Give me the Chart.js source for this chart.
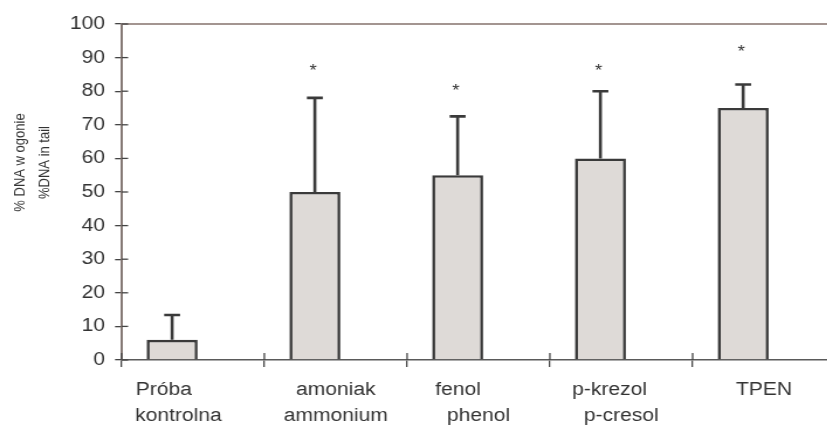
<!DOCTYPE html>
<html><head><meta charset="utf-8">
<script src="https://cdn.jsdelivr.net/npm/chart.js@4.4.1/dist/chart.umd.min.js"></script>
<style>
html,body{margin:0;padding:0;background:#fff;overflow:hidden;}
#outer{width:827px;height:428px;overflow:hidden;position:relative;}
#inner{width:714px;height:428px;transform:scaleX(1.17);transform-origin:0 0;}
</style></head><body>
<div id="outer"><div id="inner"><canvas id="c"></canvas></div></div>
<script>
// ---- data ----
const categories = [
  ['Próba          ', 'kontrolna     '],
  ['amoniak', 'ammonium'],
  ['fenol       ', 'phenol'],
  ['p-krezol    ', 'p-cresol'],
  ['TPEN']
];
const meanValues = [6, 50, 55, 60, 75];
const sdValues = [7.4, 28, 17.5, 20, 7];
const starLevels = [null, 87.2, 81.2, 87.3, 92.8];
const yTitleLines = ['% DNA w ogonie', '%DNA in tail'];
const yMin = 0, yMax = 100, yStep = 10;

const FONT = '"Liberation Sans", Arial, Helvetica, sans-serif';

const decorations = {
  id: 'decorations',
  afterDatasetsDraw(chart) {
    const ctx = chart.ctx, ys = chart.scales.y, xs = chart.scales.x, area = chart.chartArea;
    const meta = chart.getDatasetMeta(0);
    ctx.save();
    // top frame line
    ctx.strokeStyle = '#a39591'; ctx.lineWidth = 2;
    ctx.beginPath(); ctx.moveTo(area.left, area.top); ctx.lineTo(area.right, area.top); ctx.stroke();
    // inward halves of the tick marks
    ctx.strokeStyle = '#444'; ctx.lineWidth = 1.3;
    ys.ticks.forEach((t, i) => {
      const y = ys.getPixelForTick(i);
      ctx.beginPath(); ctx.moveTo(area.left, y); ctx.lineTo(area.left + 5.6, y); ctx.stroke();
    });
    for (let i = 0; i <= categories.length; i++) {
      const x = xs.getPixelForValue(i - 0.5);
      ctx.beginPath(); ctx.moveTo(x, area.bottom); ctx.lineTo(x, area.bottom - 7); ctx.stroke();
    }
    // upper error bars
    ctx.strokeStyle = '#3a3a3a'; ctx.lineWidth = 2.6; ctx.lineCap = 'butt';
    meta.data.forEach((bar, i) => {
      const top = ys.getPixelForValue(meanValues[i] + sdValues[i]);
      ctx.beginPath();
      ctx.moveTo(bar.x, bar.y); ctx.lineTo(bar.x, top);
      ctx.moveTo(bar.x - 6.8, top); ctx.lineTo(bar.x + 6.8, top);
      ctx.stroke();
    });
    // significance stars
    ctx.fillStyle = '#333';
    ctx.font = '16px ' + FONT;
    ctx.textAlign = 'center'; ctx.textBaseline = 'alphabetic';
    meta.data.forEach((bar, i) => {
      if (starLevels[i] == null) return;
      ctx.fillText('*', bar.x - 1.5, ys.getPixelForValue(starLevels[i]) + 9);
    });
    // y axis title (two rotated lines)
    ctx.font = '13px ' + FONT;
    ctx.textAlign = 'center'; ctx.textBaseline = 'middle';
    const cy = (area.top + area.bottom) / 2 - 29.5;
    yTitleLines.forEach((line, i) => {
      ctx.save();
      ctx.translate(17.5 + i * 21.4, cy);
      ctx.rotate(-Math.PI / 2);
      ctx.fillText(line, 0, 0);
      ctx.restore();
    });
    ctx.restore();
  }
};

new Chart(document.getElementById('c'), {
  type: 'bar',
  data: {
    labels: categories,
    datasets: [{
      data: meanValues.map((v, i) => ({ x: i, y: v })),
      xAxisID: 'xb', yAxisID: 'y',
      backgroundColor: '#dedad7',
      borderColor: '#3a3a3a',
      borderWidth: 2.6,
      borderSkipped: 'start',
      categoryPercentage: 1,
      barPercentage: 0.357
    }]
  },
  options: {
    responsive: true, maintainAspectRatio: false, animation: false,
    devicePixelRatio: 1,
    layout: { padding: { top: 24, left: 0, right: 0, bottom: 0 } },
    plugins: { legend: { display: false }, tooltip: { enabled: false } },
    events: [],
    scales: {
      x: {
        type: 'category', position: 'bottom', offset: true,
        grid: { display: true, drawOnChartArea: false, drawTicks: true, tickLength: 7, offset: true, color: '#444', lineWidth: 1.3 },
        border: { display: true, color: '#5a5a5a', width: 1.5 },
        ticks: { color: '#333', font: { family: FONT, size: 18, lineHeight: 1.44 }, padding: 10.5, maxRotation: 0, autoSkip: false },
        afterFit(s) { s.height = 68; }
      },
      xb: {
        type: 'linear', display: false,
        min: -0.354, max: categories.length - 0.354, offset: false,
        ticks: { stepSize: 1, includeBounds: false }
      },
      y: {
        min: yMin, max: yMax,
        ticks: { stepSize: yStep, color: '#333', font: { family: FONT, size: 18 }, padding: 8.5 },
        grid: { display: true, drawOnChartArea: false, drawTicks: true, tickLength: 5.6, color: '#444', lineWidth: 1.3 },
        border: { display: true, color: '#857975', width: 2 },
        title: { display: false },
        afterFit(s) { s.width = 103.9; }
      }
    }
  },
  plugins: [decorations]
});
</script>
</body></html>
